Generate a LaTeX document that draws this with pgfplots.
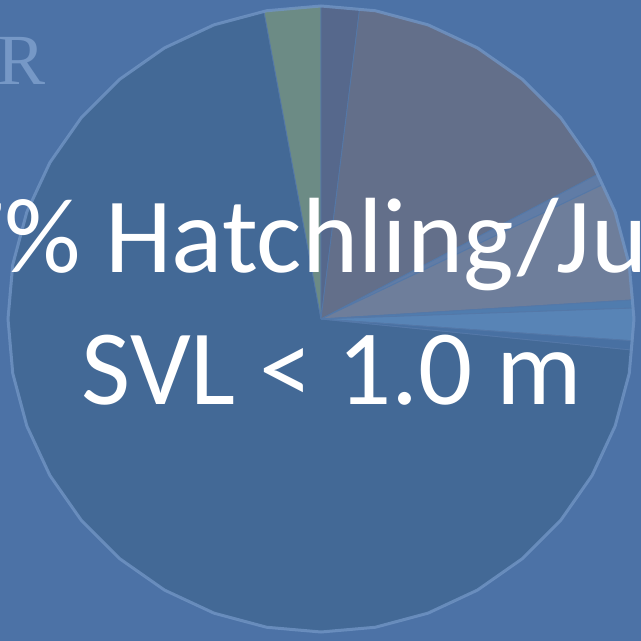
\documentclass[border=0pt]{standalone}
\usepackage{pgfplots}
\pgfplotsset{compat=1.18}
\usepackage{fontspec}
\setmainfont{Carlito}
\newfontfamily\serifR{Liberation Serif}
\definecolor{bg}{RGB}{76,114,166}
\definecolor{bigblue}{RGB}{67,105,150}
\definecolor{sgreen}{RGB}{108,139,133}
\definecolor{slate}{RGB}{86,104,140}
\definecolor{sgray}{RGB}{99,111,138}
\definecolor{thinA}{RGB}{96,124,166}
\definecolor{lgb}{RGB}{110,126,155}
\definecolor{thinB}{RGB}{80,124,174}
\definecolor{mblue}{RGB}{88,132,182}
\definecolor{thinC}{RGB}{72,112,162}
\definecolor{sep}{RGB}{84,120,168}
\definecolor{rim}{RGB}{112,148,196}
\definecolor{rtext}{RGB}{118,152,198}
\begin{document}
\begin{tikzpicture}[x=1pt,y=1pt]
\path[use as bounding box] (0,0) rectangle (641,641);
\clip (0,0) rectangle (641,641);
\fill[bg] (0,0) rectangle (641,641);
\begin{axis}[at={(321pt,322pt)}, anchor=center, scale only axis,
  width=626pt, height=626pt, xmin=-1, xmax=1, ymin=-1, ymax=1,
  hide axis, clip=false]
% big slice (70.5%)
\addplot[data cs=polar, fill=bigblue, draw=sep, line width=0.8pt] coordinates {(0,0) (100.5,1) (105,1) (110,1) (115,1) (120,1) (125,1) (130,1) (135,1) (140,1) (145,1) (150,1) (155,1) (160,1) (165,1) (170,1) (175,1) (180,1) (185,1) (190,1) (195,1) (200,1) (205,1) (210,1) (215,1) (220,1) (225,1) (230,1) (235,1) (240,1) (245,1) (250,1) (255,1) (260,1) (265,1) (270,1) (275,1) (280,1) (285,1) (290,1) (295,1) (300,1) (305,1) (310,1) (315,1) (320,1) (325,1) (330,1) (335,1) (340,1) (345,1) (350,1) (354.3,1) (0,0)};
% green (2.9%)
\addplot[data cs=polar, fill=sgreen, draw=sep, line width=0.8pt] coordinates {(0,0) (90,1) (95,1) (100.5,1) (0,0)};
% slate (2.0%)
\addplot[data cs=polar, fill=slate, draw=sep, line width=0.8pt] coordinates {(0,0) (82.9,1) (86.5,1) (90,1) (0,0)};
% gray (15.4%)
\addplot[data cs=polar, fill=sgray, draw=sep, line width=0.8pt] coordinates {(0,0) (27.6,1) (30,1) (35,1) (40,1) (45,1) (50,1) (55,1) (60,1) (65,1) (70,1) (75,1) (80,1) (82.9,1) (0,0)};
% thin (0.6%)
\addplot[data cs=polar, fill=thinA, draw=sep, line width=0.8pt] coordinates {(0,0) (25.5,1) (27.6,1) (0,0)};
% light gray-blue (6.1%)
\addplot[data cs=polar, fill=lgb, draw=sep, line width=0.8pt] coordinates {(0,0) (3.5,1) (5,1) (10,1) (15,1) (20,1) (25.5,1) (0,0)};
% thin (0.4%)
\addplot[data cs=polar, fill=thinB, draw=sep, line width=0.8pt] coordinates {(0,0) (2,1) (3.5,1) (0,0)};
% medium blue (1.7%)
\addplot[data cs=polar, fill=mblue, draw=sep, line width=0.8pt] coordinates {(0,0) (-4,1) (-1,1) (2,1) (0,0)};
% thin (0.5%)
\addplot[data cs=polar, fill=thinC, draw=sep, line width=0.8pt] coordinates {(0,0) (-5.7,1) (-4,1) (0,0)};
% rim
\addplot[data cs=polar, draw=rim, line width=3pt, opacity=0.8] coordinates {(0,1) (10,1) (20,1) (30,1) (40,1) (50,1) (60,1) (70,1) (80,1) (90,1) (100,1) (110,1) (120,1) (130,1) (140,1) (150,1) (160,1) (170,1) (180,1) (190,1) (200,1) (210,1) (220,1) (230,1) (240,1) (250,1) (260,1) (270,1) (280,1) (290,1) (300,1) (310,1) (320,1) (330,1) (340,1) (350,1) (360,1)};
\end{axis}
\node[anchor=base east, text=rtext, inner sep=0pt, font=\serifR\fontsize{72}{80}\selectfont] at (46,556) {R};
\node[anchor=base west, text=white, inner sep=0pt, font=\fontsize{107}{128}\selectfont] at (105,368) {\llap{77\% }Hatchling/Juvenile};
\node[anchor=base, text=white, inner sep=0pt, font=\fontsize{107}{128}\selectfont] at (332,236) {SVL < 1.0 m};
\end{tikzpicture}
\end{document}
